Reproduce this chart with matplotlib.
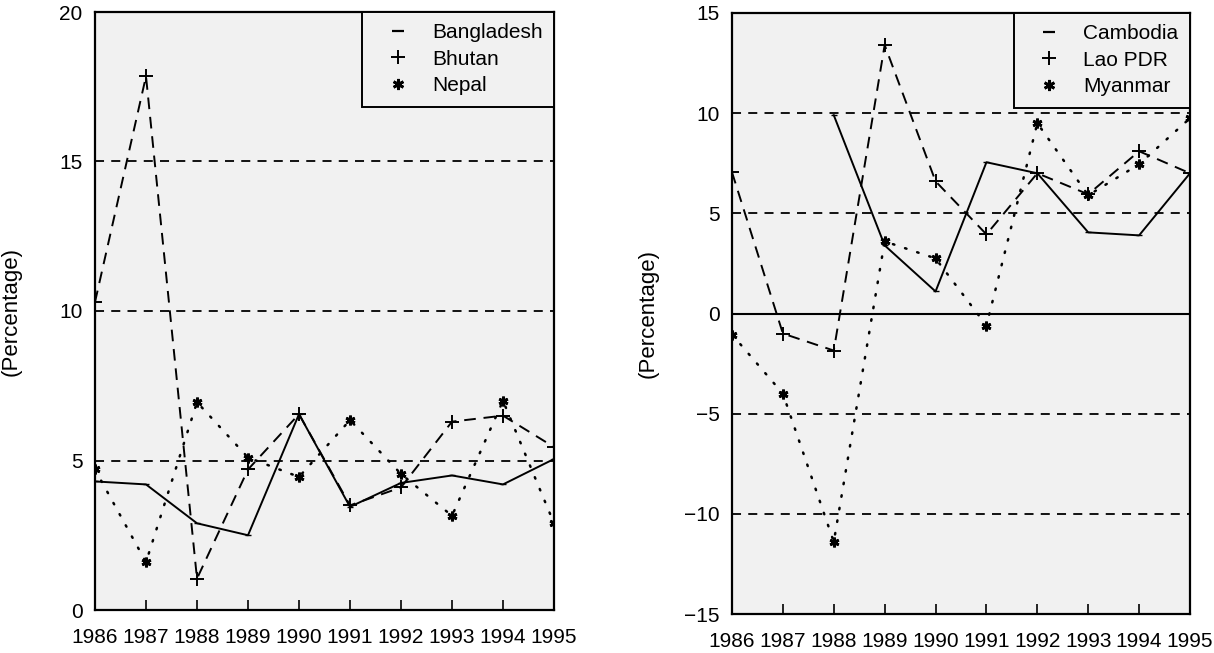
import matplotlib
matplotlib.use('Agg')
import matplotlib.pyplot as plt
from matplotlib.lines import Line2D
import numpy as np

plt.rcParams['font.family'] = ['Liberation Sans', 'DejaVu Sans']

years = list(range(1986, 1996))

# left panel
bangladesh = [4.3, 4.2, 2.9, 2.5, 6.55, 3.45, 4.25, 4.5, 4.2, 5.05]
bhutan = [10.3, 17.85, 1.05, 4.7, 6.55, 3.5, 4.1, 6.3, 6.5, 5.45]
nepal = [4.7, 1.6, 6.95, 5.1, 4.45, 6.35, 4.55, 3.15, 7.0, 2.9]

# right panel (Cambodia has no data before 1988)
cambodia = [np.nan, np.nan, 9.9, 3.4, 1.1, 7.55, 7.0, 4.05, 3.9, 7.0]
lao = [7.05, -1.0, -1.85, 13.4, 6.6, 3.95, 7.0, 5.95, 8.1, 7.0]
myanmar = [-1.05, -4.0, -11.4, 3.6, 2.75, -0.6, 9.5, 5.9, 7.45, 9.75]

left_names = ['Bangladesh', 'Bhutan', 'Nepal']
right_names = ['Cambodia', 'Lao PDR', 'Myanmar']

bg = '#f1f1f1'
dash_grid = (0, (5, 4))
star = (6, 2, 0)
fs = 15

fig = plt.figure(figsize=(12.14, 6.53), dpi=100)
ax1 = fig.add_axes([95 / 1214, 1 - 610 / 653, 459 / 1214, 598 / 653])
ax2 = fig.add_axes([732 / 1214, 1 - 614 / 653, 458 / 1214, 601 / 653])


def style_axes(ax, ylim, yticks):
    ax.set_facecolor(bg)
    ax.set_xlim(1986, 1995)
    ax.set_ylim(*ylim)
    ax.set_xticks(years)
    ax.set_yticks(yticks)
    ax.tick_params(axis='x', direction='in', length=7, width=1.2, pad=13,
                   labelsize=fs, top=False)
    ax.tick_params(axis='y', length=0, pad=9, labelsize=fs)
    for s in ax.spines.values():
        s.set_linewidth(1.6)
    ax.set_ylabel('(Percentage)', fontsize=16)
    ax.yaxis.set_label_coords(-0.16, 0.5)


def series(ax, a, b, c):
    ax.plot(years, a, color='black', lw=1.4, ls='-', marker='_', ms=5, zorder=4)
    ax.plot(years, b, color='black', lw=1.4, ls=(0, (6, 4)), marker='+',
            ms=10, mew=1.4, zorder=4)
    ax.plot(years, c, color='black', lw=1.8, ls=(0, (0.6, 4.5)),
            dash_capstyle='round', marker=star, ms=7, mew=2, zorder=4)


def legend(ax, names):
    handles = [
        Line2D([], [], color='black', ls='none', marker='_', ms=9, mew=1.6),
        Line2D([], [], color='black', ls='none', marker='+', ms=10, mew=1.4),
        Line2D([], [], color='black', ls='none', marker=star, ms=8, mew=2),
    ]
    leg = ax.legend(handles, names, loc='upper right', fontsize=fs,
                    frameon=True, fancybox=False, borderaxespad=0,
                    handlelength=2.3, handletextpad=0.5, borderpad=0.55,
                    labelspacing=0.35, facecolor=bg, framealpha=1)
    leg.get_frame().set_edgecolor('black')
    leg.get_frame().set_linewidth(1.4)
    leg.set_zorder(6)


# left chart
style_axes(ax1, (0, 20), [0, 5, 10, 15, 20])
for lvl in [5, 10, 15]:
    ax1.axhline(lvl, color='black', lw=1.3, ls=dash_grid, zorder=2)
series(ax1, bangladesh, bhutan, nepal)
legend(ax1, left_names)

# right chart
style_axes(ax2, (-15, 15), [-15, -10, -5, 0, 5, 10, 15])
for lvl in [-10, -5, 5, 10]:
    ax2.axhline(lvl, color='black', lw=1.3, ls=dash_grid, zorder=2)
ax2.axhline(0, color='black', lw=1.5, zorder=2)
series(ax2, cambodia, lao, myanmar)
legend(ax2, right_names)

fig.savefig('out.png', dpi=100, facecolor='white')
